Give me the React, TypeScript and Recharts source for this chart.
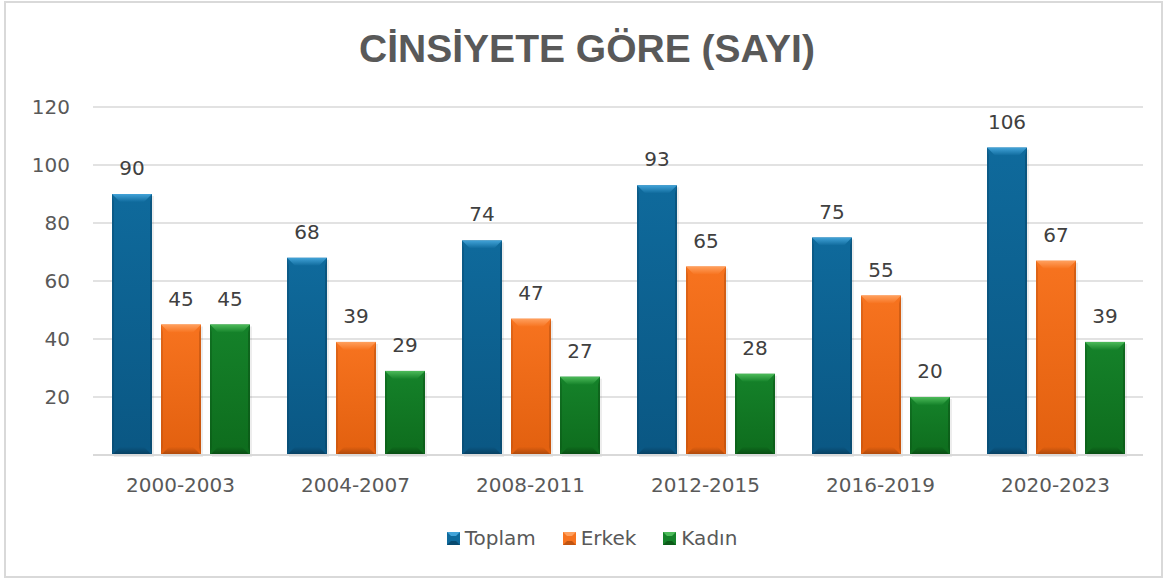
import React from 'react';
import { BarChart, Bar, XAxis, YAxis, CartesianGrid, LabelList } from 'recharts';

const periods = ['2000-2003', '2004-2007', '2008-2011', '2012-2015', '2016-2019', '2020-2023'];
const toplam = [90, 68, 74, 93, 75, 106];
const erkek = [45, 39, 47, 65, 55, 67];
const kadin = [45, 29, 27, 28, 20, 39];
const yTicks = [0, 20, 40, 60, 80, 100, 120];

const series = [
  { key: 'toplam', name: 'Toplam', top: '#0f6a9c', bottom: '#0a5783', light: '#42a3d8', dark: '#063d5e' },
  { key: 'erkek', name: 'Erkek', top: '#f7731f', bottom: '#e2600f', light: '#ffa05e', dark: '#a9470b' },
  { key: 'kadin', name: 'Kadın', top: '#15822a', bottom: '#0e6c1d', light: '#4dbb5a', dark: '#084a12' },
];

const data = periods.map((p, i) => ({
  period: p,
  toplam: toplam[i],
  erkek: erkek[i],
  kadin: kadin[i],
}));

const FONT = '"DejaVu Sans", sans-serif';

// bevelled bar like the office "bevel" effect
const bevelShape = (s: typeof series[number]) => (props: any) => {
  const { x, y, width: w, height: h } = props;
  if (!h || h <= 0) return <g />;
  const t = Math.min(8, h / 3);
  const b = Math.min(8, h / 3);
  const side = 2;
  return (
    <g>
      <rect x={x + 2} y={y + 2} width={w} height={h} fill="#000" opacity={0.07} />
      <rect x={x} y={y} width={w} height={h} fill={`url(#body-${s.key})`} />
      <polygon
        points={`${x},${y} ${x + w},${y} ${x + w - 8},${y + t} ${x + 8},${y + t}`}
        fill={`url(#top-${s.key})`}
      />
      <polygon
        points={`${x},${y + h} ${x + w},${y + h} ${x + w - 8},${y + h - b} ${x + 8},${y + h - b}`}
        fill={`url(#bot-${s.key})`}
      />
      <polygon
        points={`${x},${y} ${x + side},${y + t} ${x + side},${y + h - b} ${x},${y + h}`}
        fill={s.dark}
        opacity={0.3}
      />
      <polygon
        points={`${x + w},${y} ${x + w - side},${y + t} ${x + w - side},${y + h - b} ${x + w},${y + h}`}
        fill={s.dark}
        opacity={0.45}
      />
    </g>
  );
};

export default function App() {
  return (
    <div style={{ position: 'absolute', left: 0, top: 0, width: 1166, height: 581, background: '#fff' }}>
      <div
        style={{
          position: 'absolute',
          left: 4,
          top: 1,
          width: 1155,
          height: 573,
          border: '2px solid #d9d9d9',
        }}
      />
      <div
        style={{
          position: 'absolute',
          left: 0,
          top: 27,
          width: 1174,
          textAlign: 'center',
          fontFamily: '"Liberation Sans", Arial, sans-serif',
          fontWeight: 700,
          fontSize: 39,
          color: '#595959',
        }}
      >
        CİNSİYETE GÖRE (SAYI)
      </div>
      <div style={{ position: 'absolute', left: 0, top: 0 }}>
        <BarChart
          width={1166}
          height={581}
          data={data}
          margin={{ top: 107, right: 23, bottom: 0, left: 0 }}
          barCategoryGap={19}
          barGap={9}
        >
          <defs>
            {series.map((s) => (
              <React.Fragment key={s.key}>
                <linearGradient id={`body-${s.key}`} x1="0" y1="0" x2="0" y2="1">
                  <stop offset="0%" stopColor={s.top} />
                  <stop offset="100%" stopColor={s.bottom} />
                </linearGradient>
                <linearGradient id={`top-${s.key}`} x1="0" y1="0" x2="0" y2="1">
                  <stop offset="0%" stopColor={s.light} />
                  <stop offset="100%" stopColor={s.top} />
                </linearGradient>
                <linearGradient id={`bot-${s.key}`} x1="0" y1="0" x2="0" y2="1">
                  <stop offset="0%" stopColor={s.bottom} />
                  <stop offset="100%" stopColor={s.dark} />
                </linearGradient>
              </React.Fragment>
            ))}
          </defs>
          <CartesianGrid vertical={false} stroke="#d9d9d9" strokeWidth={1.3} />
          <XAxis
            dataKey="period"
            tickLine={false}
            tickSize={0}
            tickMargin={23}
            axisLine={{ stroke: '#d9d9d9', strokeWidth: 2 }}
            tick={{ fill: '#595959', fontSize: 20, fontFamily: FONT }}
            height={126}
          />
          <YAxis
            width={93}
            domain={[0, 120]}
            ticks={yTicks}
            tickFormatter={(v: number) => (v === 0 ? '' : String(v))}
            tickLine={false}
            axisLine={false}
            tickSize={0}
            tickMargin={23}
            tick={{ fill: '#595959', fontSize: 20, fontFamily: FONT }}
          />
          {series.map((s) => (
            <Bar
              key={s.key}
              dataKey={s.key}
              name={s.name}
              fill={s.top}
              shape={bevelShape(s)}
              isAnimationActive={false}
            >
              <LabelList
                dataKey={s.key}
                position="top"
                offset={19}
                fill="#404040"
                fontSize={20}
                fontFamily={FONT}
              />
            </Bar>
          ))}
        </BarChart>
      </div>
      <div
        style={{
          position: 'absolute',
          left: 0,
          top: 526,
          width: 1184,
          display: 'flex',
          justifyContent: 'center',
          gap: 27,
          fontFamily: FONT,
          fontSize: 20,
          color: '#595959',
        }}
      >
        {series.map((s) => (
          <div key={s.key} style={{ display: 'flex', alignItems: 'center', gap: 5 }}>
            <svg width={13} height={13}>
              <rect x={0} y={0} width={13} height={13} fill={s.top} />
              <polygon points="0,0 13,0 9,4 4,4" fill={s.light} />
              <polygon points="0,13 13,13 9,9 4,9" fill={s.dark} opacity={0.7} />
            </svg>
            <span>{s.name}</span>
          </div>
        ))}
      </div>
    </div>
  );
}
